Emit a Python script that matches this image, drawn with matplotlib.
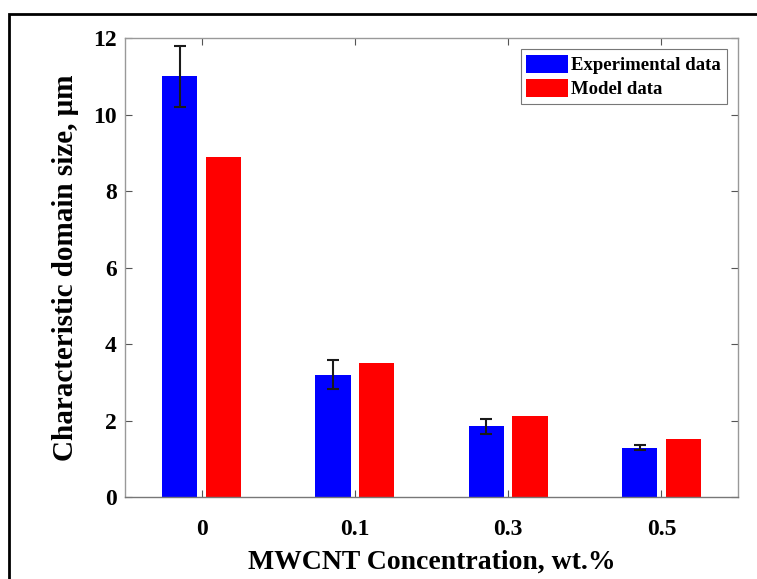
import matplotlib.pyplot as plt
import numpy as np
from matplotlib.patches import Rectangle

# data
groups = ['0', '0.1', '0.3', '0.5']
exp_vals = [11.0, 3.2, 1.85, 1.29]
exp_err = [0.8, 0.38, 0.19, 0.06]
model_vals = [8.89, 3.50, 2.11, 1.51]

plt.rcParams['font.family'] = ['Liberation Serif', 'DejaVu Serif']
plt.rcParams['font.weight'] = 'bold'

fig = plt.figure(figsize=(7.57, 5.79), dpi=100)
ax = fig.add_axes([0.165, 0.1416, 0.81, 0.7925])

x = np.arange(1, len(groups) + 1)
w = 0.23
ax.bar(x - 0.143, exp_vals, w, color='#0000ff', label='Experimental data')
ax.bar(x + 0.143, model_vals, w, color='#ff0000', label='Model data')
ax.errorbar(x - 0.143, exp_vals, yerr=exp_err, fmt='none', ecolor='#1a1a1a',
            elinewidth=1.5, capsize=4, capthick=1.5)

ax.set_xlim(0.5, 4.5)
ax.set_ylim(0, 12)
ax.set_xticks(x)
ax.set_xticklabels(groups)
ax.set_yticks(range(0, 13, 2))
ax.tick_params(direction='in', top=True, right=True, length=5, width=0.8,
               color='#555555', labelsize=17, pad=6)
ax.tick_params(axis='x', pad=16)
for s in ax.spines.values():
    s.set_color('#999999')
    s.set_linewidth(1.0)
ax.spines['bottom'].set_color('#777777')

ax.set_xlabel('MWCNT Concentration, wt.%', fontsize=20, fontweight='bold', labelpad=7)
ax.set_ylabel('Characteristic domain size, \u03bcm', fontsize=21, fontweight='bold', labelpad=10)

leg = ax.legend(loc='upper right', fontsize=13.5, frameon=True, fancybox=False,
                handlelength=2.2, handleheight=1.1, handletextpad=0.2,
                borderaxespad=0.6, borderpad=0.3, labelspacing=0.25)
leg.get_frame().set_edgecolor('#555555')
leg.get_frame().set_linewidth(0.8)

# outer frame, cut off at right and bottom like the source image
fig.patches.append(Rectangle((0.012, -0.2), 1.2, 1.176, transform=fig.transFigure,
                             fill=False, edgecolor='black', linewidth=2))

fig.savefig('out.png', dpi=100)
